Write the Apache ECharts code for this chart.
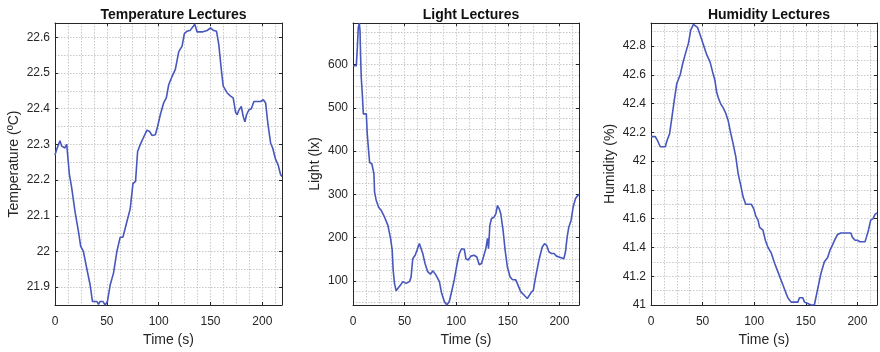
<!DOCTYPE html>
<html>
<head>
<meta charset="utf-8">
<script src="https://cdn.jsdelivr.net/npm/echarts@6/dist/echarts.min.js"></script>
<style>
  html, body { margin: 0; padding: 0; background: #fff; }
  #main { width: 880px; height: 352px; }
</style>
</head>
<body>
<div id="main"></div>
<script>
// values (time in s)
var tempTime = [0, 1.5, 4.8, 6.5, 8, 9.5, 11.3, 13.9, 16, 19.4, 22.6, 24.8, 27.4, 30.6, 33.9, 36.1, 40.3, 42, 43.5, 46.1,
  48.4, 50.6, 53.2, 56.5, 59.7, 62.9, 65.5, 69.4, 72.6, 75.2, 77.7, 79.7, 82.3, 85.5, 88.7, 91.3, 93.5, 96.8, 99, 101.6,
  104.8, 107.4, 109.7, 112.9, 116.1, 119.4, 122.6, 124.8, 127.4, 130.6, 133.2, 134.8, 137.1, 142, 146.8, 150, 152.6,
  155.8, 158, 160.3, 162.3, 166.1, 169.4, 171.9, 174.2, 175.8, 177.4, 179.7, 181.6, 183.2, 184.8, 187.1, 189.4, 191.9,
  198.4, 201, 203.2, 205.5, 208, 210, 211.3, 212.9, 215.2, 217.7, 219];
var tempVals = [22.27, 22.285, 22.31, 22.295, 22.30, 22.29, 22.30, 22.215, 22.18, 22.11, 22.056, 22.014, 22.0, 21.953,
  21.906, 21.86, 21.86, 21.852, 21.86, 21.86, 21.85, 21.86, 21.906, 21.94, 22.0, 22.04, 22.04, 22.084, 22.12, 22.19,
  22.196, 22.28, 22.30, 22.32, 22.34, 22.336, 22.325, 22.327, 22.35, 22.383, 22.416, 22.43, 22.467, 22.49, 22.51, 22.56,
  22.575, 22.61, 22.617, 22.62, 22.63, 22.637, 22.615, 22.615, 22.619, 22.626, 22.62, 22.617, 22.58, 22.514, 22.463,
  22.444, 22.435, 22.43, 22.39, 22.383, 22.396, 22.406, 22.378, 22.363, 22.383, 22.397, 22.40, 22.42, 22.42, 22.425,
  22.416, 22.355, 22.304, 22.29, 22.295, 22.257, 22.243, 22.215, 22.21];

var lightTime = [0, 1.6, 3.2, 4.2, 5.1, 6.1, 6.8, 7.4, 8, 9, 10, 12.9, 13.8, 15.1, 16.1, 18.3, 20.3, 20.9, 22.5, 24.8,
  27.3, 30.6, 33.8, 36.4, 38, 38.9, 40.2, 41.8, 43.4, 46, 48.3, 51.5, 54.7, 56.3, 57.9, 60.2, 62.1, 64.3, 66, 67.6,
  69.8, 72.4, 75, 77.5, 80.4, 83.7, 85.9, 88.5, 91, 93.3, 95.9, 98.1, 100.7, 103, 105.2, 107.8, 109.4, 111.6, 114.2,
  117.4, 120, 122.3, 124.5, 126.4, 128.7, 130.3, 131.3, 132.6, 134.2, 136.7, 138.4, 140, 141.6, 143.2, 145.4, 147.4,
  149.6, 152.2, 154.4, 157.7, 159.9, 162.5, 165.7, 168.9, 172.1, 174.7, 177, 180.2, 183.4, 185.6, 187.6, 189.8, 192.4,
  194.7, 197.2, 201.1, 204.3, 205.9, 207.5, 209.1, 211.4, 213.3, 215.6, 217.8, 219];
var lightVals = [597, 593, 597, 639, 685, 696, 678, 616, 570, 532, 486, 486, 440, 401, 374, 370, 347, 305, 286, 270,
  263, 247, 228, 198, 171, 125, 94, 77, 78, 90, 98, 94, 98, 109, 151, 159, 171, 186, 186, 163,
  140, 121, 115, 123, 113, 98, 71, 52, 44, 52, 78, 102, 137, 163, 174, 173, 151, 148, 157,
  159, 155, 137, 140, 155, 174, 198, 174, 228, 244, 247, 255, 274, 267, 255, 217, 171,
  132, 109, 103, 102, 90, 75, 67, 59, 71, 78, 109, 148, 178, 186, 182, 167, 163,
  163, 157, 154, 151, 167, 201, 224, 240, 270, 290, 297, 300];

var humTime = [0, 4.2, 5.8, 7.7, 9, 13.8, 15.4, 18, 20.2, 22.5, 25, 28.3, 30.8, 33.1, 36.3, 38.5, 41.1, 42.7, 45, 47.5,
  50.7, 54, 57.2, 59.7, 62, 63.6, 65.2, 67.4, 70, 72.6, 74.8, 77.4, 79.6, 82.2, 84.5, 86.7, 89.3, 91.8, 97.3, 99.5,
  101.5, 103.7, 105.3, 108.5, 110.8, 113.4, 116.6, 119.8, 123, 126.2, 129.4, 132.6, 135.8, 142.3, 143.9, 147.1, 148.7,
  151.9, 155.1, 158.3, 161.5, 164.7, 168, 171.2, 173.4, 176, 178.5, 180.8, 184, 193.6, 195.2, 197.8, 200, 202.3,
  207.4, 208.7, 210.7, 212.9, 215.2, 217.1, 219];
var humVals = [42.17, 42.17, 42.15, 42.14, 42.10, 42.10, 42.14, 42.19, 42.30, 42.42, 42.54, 42.60, 42.68, 42.74, 42.82,
  42.91, 42.95, 42.96, 42.93, 42.88, 42.81, 42.74, 42.69, 42.62, 42.56, 42.48, 42.44, 42.40, 42.37, 42.33, 42.28,
  42.19, 42.12, 42.03, 41.91, 41.84, 41.75, 41.70, 41.70, 41.67, 41.62, 41.59, 41.54, 41.52, 41.45, 41.40, 41.36,
  41.29, 41.23, 41.17, 41.11, 41.05, 41.02, 41.02, 41.05, 41.05, 41.02, 41.01, 41.0, 41.0, 41.11, 41.22, 41.30,
  41.33, 41.38, 41.42, 41.46, 41.49, 41.50, 41.50, 41.47, 41.45, 41.45, 41.44, 41.44, 41.47, 41.52, 41.59, 41.60,
  41.63, 41.64];

var titles = ['Temperature Lectures', 'Light Lectures', 'Humidity Lectures'];
var yNames = ['Temperature (ºC)', 'Light (lx)', 'Humidity (%)'];
var xName = 'Time (s)';

var panels = [
  { time: tempTime, vals: tempVals, yMin: 21.85, yMax: 22.64, ySplit: 8, yStep: 0.05, showMin: false, nameGap: 34,
    grid: { left: 55, top: 23, width: 227, height: 283 } },
  { time: lightTime, vals: lightVals, yMin: 44, yMax: 696, ySplit: 6, yStep: null, showMin: false, nameGap: 31,
    grid: { left: 353, top: 23, width: 226, height: 284 } },
  { time: humTime, vals: humVals, yMin: 41, yMax: 42.96, ySplit: 10, yStep: 0.1, showMin: true, nameGap: 34,
    grid: { left: 651, top: 23, width: 226, height: 283 } }
];

var ink = '#262626';
var font = 'Liberation Sans, Arial, Helvetica, sans-serif';
var gridLine = { color: '#c9c9c9', width: 1, type: [1.5, 1.5] };

var chart = echarts.init(document.getElementById('main'), null, { renderer: 'canvas' });

var grids = [], xAxes = [], yAxes = [], series = [], titleList = [];

panels.forEach(function (p, i) {
  grids.push({ left: p.grid.left, top: p.grid.top, width: p.grid.width, height: p.grid.height, containLabel: false });
  titleList.push({
    text: titles[i], left: p.grid.left + p.grid.width / 2, top: 3, textAlign: 'center',
    textStyle: { fontSize: 14, fontWeight: 'bold', color: '#111', fontFamily: font }
  });

  // x: labelled axis (bottom), box ticks (top), grid lines
  xAxes.push({
    gridIndex: i, type: 'value', min: 0, max: 219, splitNumber: 4, position: 'bottom',
    name: xName, nameLocation: 'middle', nameGap: 28,
    nameTextStyle: { fontSize: 14, color: ink, fontFamily: font },
    axisLine: { show: true, onZero: false, lineStyle: { color: ink, width: 1 } },
    axisTick: { show: true, inside: true, length: 3, lineStyle: { color: ink } },
    axisLabel: { fontSize: 12, color: ink, fontFamily: font, margin: 11, showMaxLabel: false },
    splitLine: { show: false }
  });
  xAxes.push({
    gridIndex: i, type: 'value', min: 0, max: 219, splitNumber: 4, position: 'top',
    axisLine: { show: true, onZero: false, lineStyle: { color: ink, width: 1 } },
    axisTick: { show: true, inside: true, length: 3, lineStyle: { color: ink } },
    axisLabel: { show: false }, splitLine: { show: false }
  });
  xAxes.push({
    gridIndex: i, type: 'value', min: 0, max: 219, interval: 12.5, position: 'bottom',
    axisLine: { show: false }, axisTick: { show: false }, axisLabel: { show: false },
    splitLine: { show: true, lineStyle: gridLine }
  });

  // y: labelled axis (left), box ticks (right), grid lines
  yAxes.push({
    gridIndex: i, type: 'value', min: p.yMin, max: p.yMax, splitNumber: p.ySplit, position: 'left',
    name: yNames[i], nameLocation: 'middle', nameGap: p.nameGap,
    nameTextStyle: { fontSize: 14, color: ink, fontFamily: font },
    axisLine: { show: true, onZero: false, lineStyle: { color: ink, width: 1 } },
    axisTick: { show: true, inside: true, length: 3, lineStyle: { color: ink } },
    axisLabel: { fontSize: 12, color: ink, fontFamily: font, margin: 5, showMinLabel: p.showMin, showMaxLabel: false },
    splitLine: { show: false }
  });
  yAxes.push({
    gridIndex: i, type: 'value', min: p.yMin, max: p.yMax, splitNumber: p.ySplit, position: 'right',
    axisLine: { show: true, onZero: false, lineStyle: { color: ink, width: 1 } },
    axisTick: { show: true, inside: true, length: 3, lineStyle: { color: ink } },
    axisLabel: { show: false }, splitLine: { show: false }
  });
  var gy = {
    gridIndex: i, type: 'value', min: p.yMin, max: p.yMax, position: 'left',
    axisLine: { show: false }, axisTick: { show: false }, axisLabel: { show: false },
    splitLine: { show: true, lineStyle: gridLine }
  };
  if (p.yStep) {
    gy.interval = p.yStep;
  } else {
    gy.splitNumber = p.ySplit;
    gy.minorTick = { show: false, splitNumber: 4 };
    gy.minorSplitLine = { show: true, lineStyle: gridLine };
  }
  yAxes.push(gy);

  series.push({
    type: 'line', xAxisIndex: i * 3, yAxisIndex: i * 3, showSymbol: false, silent: true,
    data: p.time.map(function (t, k) { return [t, p.vals[k]]; }),
    lineStyle: { color: '#4757bd', width: 1.6 }, z: 5
  });
});

chart.setOption({
  animation: false,
  backgroundColor: '#fff',
  title: titleList,
  grid: grids,
  xAxis: xAxes,
  yAxis: yAxes,
  series: series
});
</script>
</body>
</html>
